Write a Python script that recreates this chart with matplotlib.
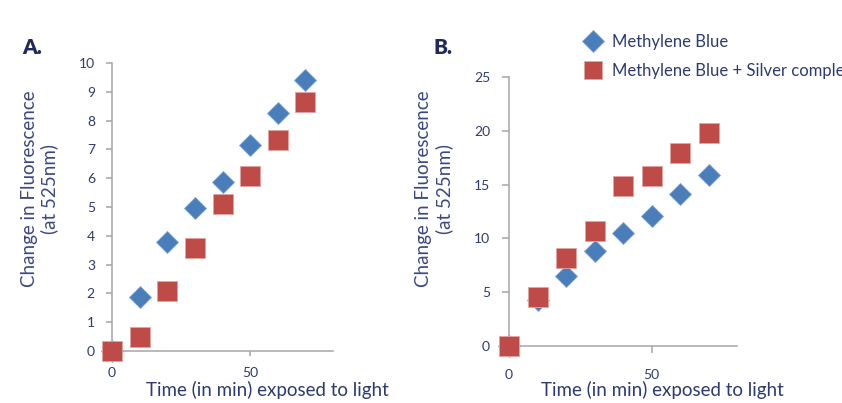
import matplotlib
matplotlib.use("Agg")
import matplotlib.pyplot as plt
from matplotlib.lines import Line2D

plt.rcParams['font.family'] = ['Lato', 'DejaVu Sans']

time_min = [0, 10, 20, 30, 40, 50, 60, 70]
a_mb = [0, 1.88, 3.78, 4.96, 5.88, 7.17, 8.25, 9.40]
a_mb_ag = [0, 0.49, 2.08, 3.57, 5.11, 6.06, 7.31, 8.64]
b_mb = [0, 4.3, 6.54, 8.84, 10.54, 12.09, 14.17, 15.9]
b_mb_ag = [0, 4.59, 8.22, 10.7, 14.88, 15.8, 17.9, 19.8]

series_labels = ["Methylene Blue", "Methylene Blue + Silver complex"]
panel_labels = ["A.", "B."]
ylabel = "Change in Fluorescence\n(at 525nm)"
xlabel = "Time (in min) exposed to light"

BLUE = '#4a7ebb'
RED = '#be4b48'
NAVY = '#2e3a72'
LABEL = '#3a4784'
SPINE = '#a6a6a6'

W, H = 842, 403
fig = plt.figure(figsize=(W / 100, H / 100), dpi=100)

def px_axes(x0, y_top, x1, y_bot):
    return fig.add_axes([x0 / W, 1 - y_bot / H, (x1 - x0) / W, (y_bot - y_top) / H])

axA = px_axes(112, 63, 333, 351)
axB = px_axes(509, 77, 737, 346)

configs = [
    (axA, a_mb, a_mb_ag, 10, [0, 1, 2, 3, 4, 5, 6, 7, 8, 9, 10], 8, 8, 5, 6),
    (axB, b_mb, b_mb_ag, 25, [0, 5, 10, 15, 20, 25], 11.5, 8.6, 7, 7),
]
for ax, mb, mbag, ymax, yt, xpad, ypad, xlen, ylen in configs:
    ax.plot(time_min, mb, linestyle='none', marker='D', markersize=10.8,
            color=BLUE, markeredgecolor='#7fa3d4', markeredgewidth=0.6,
            clip_on=False, zorder=3)
    ax.plot(time_min, mbag, linestyle='none', marker='s', markersize=14,
            color=RED, markeredgecolor='#e3a5a3', markeredgewidth=0.6,
            clip_on=False, zorder=4)
    ax.set_xlim(0, 80)
    ax.set_ylim(0, ymax)
    ax.set_xticks([0, 50])
    ax.set_yticks(yt)
    for s in ['top', 'right']:
        ax.spines[s].set_visible(False)
    for s in ['left', 'bottom']:
        ax.spines[s].set_color(SPINE)
        ax.spines[s].set_linewidth(1.1)
    ax.tick_params(axis='x', direction='out', length=xlen * 0.72, width=1.1,
                   color=SPINE, labelcolor=NAVY, labelsize=10, pad=xpad)
    ax.tick_params(axis='y', direction='out', length=ylen * 0.72, width=1.1,
                   color=SPINE, labelcolor=NAVY, labelsize=10, pad=ypad)
    ax.set_facecolor('none')

axA.text(-0.328, 0.5625, ylabel, transform=axA.transAxes, rotation=90,
         ha='center', va='center', multialignment='center',
         fontsize=13.5, color=LABEL)
axB.text(-0.330, 0.584, ylabel, transform=axB.transAxes, rotation=90,
         ha='center', va='center', multialignment='center',
         fontsize=13.5, color=LABEL)

fig.text(267 / W, 1 - 390 / H, xlabel, ha='center', va='center',
         fontsize=13.5, color=NAVY)
fig.text(662 / W, 1 - 390 / H, xlabel, ha='center', va='center',
         fontsize=13.5, color=NAVY)

fig.text(22 / W, 1 - 48 / H, panel_labels[0], ha='left', va='center',
         fontsize=15, fontweight='heavy', color='#1f2a5c')
fig.text(433 / W, 1 - 48 / H, panel_labels[1], ha='left', va='center',
         fontsize=15, fontweight='heavy', color='#1f2a5c')

handles = [
    Line2D([], [], linestyle='none', marker='D', markersize=11, color=BLUE,
           markeredgecolor='#7fa3d4', markeredgewidth=0.6),
    Line2D([], [], linestyle='none', marker='s', markersize=12.5, color=RED,
           markeredgecolor='#e3a5a3', markeredgewidth=0.6),
]
leg = fig.legend(handles, series_labels, loc='upper left',
                 bbox_to_anchor=(585 / W, 1 - 34 / H), frameon=False,
                 fontsize=12, labelcolor=NAVY, handlelength=1.0,
                 handletextpad=0.62, labelspacing=0.8, borderpad=0,
                 borderaxespad=0)

fig.savefig('out.png', dpi=100)
